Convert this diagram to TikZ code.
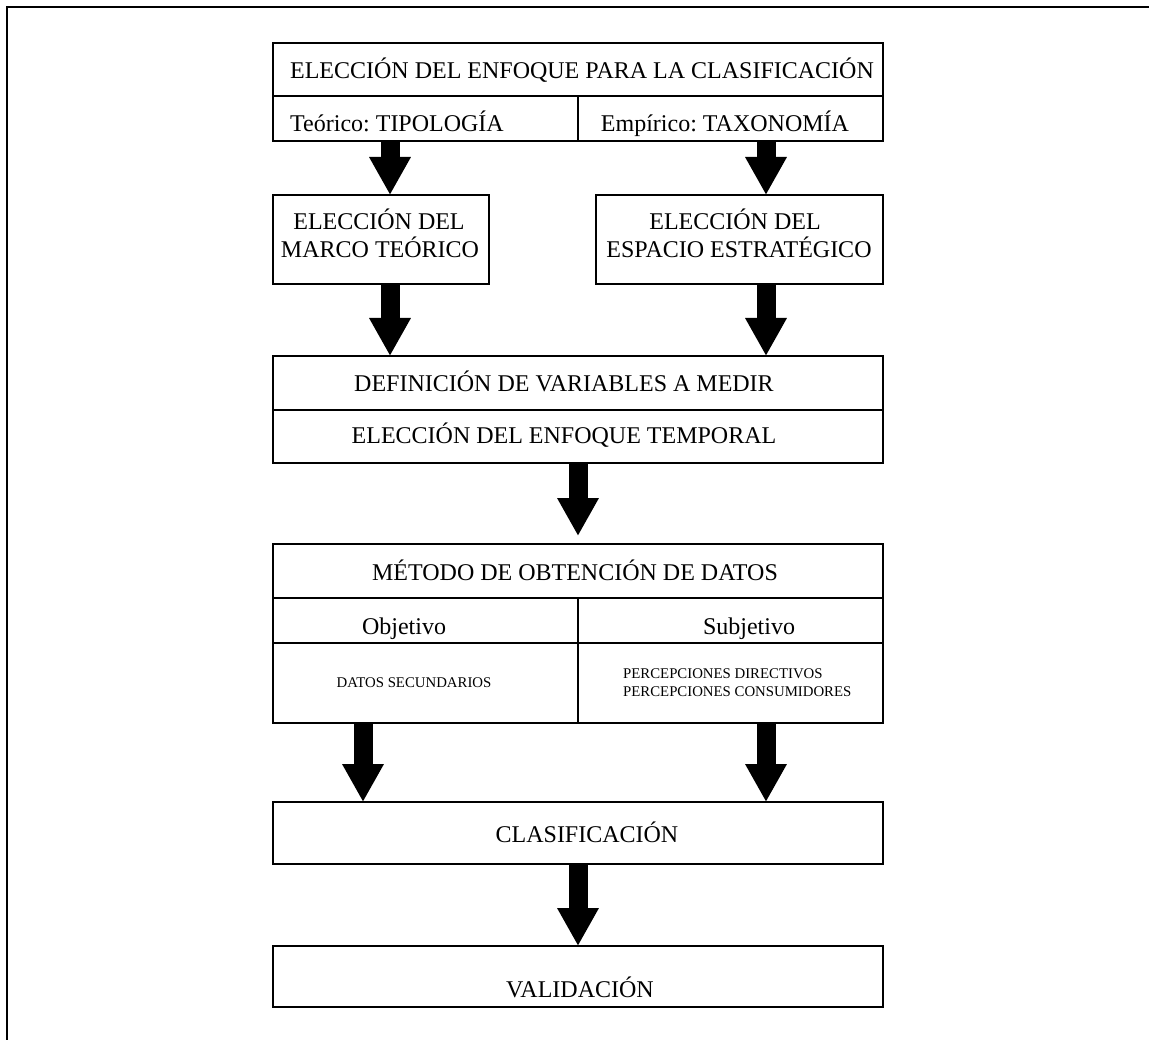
\documentclass[tikz,border=0pt]{standalone}
\usepackage{fontspec}
\setmainfont{Liberation Serif}
\usetikzlibrary{arrows.meta}
\frenchspacing
\begin{document}
\begin{tikzpicture}[x=1pt,y=-1pt,
  box/.style={draw, line width=1.4pt, rectangle, inner sep=0pt, outer sep=0pt, anchor=north west},
  lbl/.style={anchor=base, inner sep=0pt, font=\fontsize{24}{28}\selectfont},
  small/.style={inner sep=0pt, font=\fontsize{14.8}{18}\selectfont},
  blk/.style={line width=19pt, -{Triangle[width=39pt,length=38pt]}}]
\useasboundingbox (0,0) rectangle (1149,1040);
% page frame (top and left sides)
\draw[line width=2.4pt] (7,1040) -- (7,7) -- (1149,7);

% boxes
\node[box, minimum width=610pt, minimum height=53pt] (topA) at (273,43) {};
\node[box, minimum width=305pt, minimum height=45pt] (topL) at (273,96) {};
\node[box, minimum width=305pt, minimum height=45pt] (topR) at (578,96) {};
\node[box, minimum width=216pt, minimum height=89pt] (marco) at (273,195) {};
\node[box, minimum width=287pt, minimum height=89pt] (espacio) at (596,195) {};
\node[box, minimum width=610pt, minimum height=54pt] (defA) at (273,356) {};
\node[box, minimum width=610pt, minimum height=53pt] (defB) at (273,410) {};
\node[box, minimum width=610pt, minimum height=54pt] (metA) at (273,544) {};
\node[box, minimum width=305pt, minimum height=45pt] (metL) at (273,598) {};
\node[box, minimum width=305pt, minimum height=45pt] (metR) at (578,598) {};
\node[box, minimum width=305pt, minimum height=80pt] (metLb) at (273,643) {};
\node[box, minimum width=305pt, minimum height=80pt] (metRb) at (578,643) {};
\node[box, minimum width=610pt, minimum height=62pt] (clas) at (273,802) {};
\node[box, minimum width=610pt, minimum height=61pt] (valid) at (273,946) {};

% texts
\node[lbl] (tTop) at (582,79) {ELECCIÓN DEL ENFOQUE PARA LA CLASIFICACIÓN};
\node[lbl] (tTeo) at (397,132) {Teórico: TIPOLOGÍA};
\node[lbl] (tEmp) at (725,132) {Empírico: TAXONOMÍA};
\node[lbl] (tMar1) at (379,230) {ELECCIÓN DEL};
\node[lbl] (tMar2) at (380,258) {MARCO TEÓRICO};
\node[lbl] (tEsp1) at (735,230) {ELECCIÓN DEL};
\node[lbl] (tEsp2) at (739,258) {ESPACIO ESTRATÉGICO};
\node[lbl] (tDef) at (564,392) {DEFINICIÓN DE VARIABLES A MEDIR};
\node[lbl] (tTemp) at (564,443) {ELECCIÓN DEL ENFOQUE TEMPORAL};
\node[lbl] (tMet) at (575,580) {MÉTODO DE OBTENCIÓN DE DATOS};
\node[lbl] (tObj) at (404,634) {Objetivo};
\node[lbl] (tSub) at (749,634) {Subjetivo};
\node[small, anchor=base] (tDat) at (414,687) {DATOS SECUNDARIOS};
\node[small, anchor=base west] (tPer1) at (623,678) {PERCEPCIONES DIRECTIVOS};
\node[small, anchor=base west] (tPer2) at (623,696) {PERCEPCIONES CONSUMIDORES};
\node[lbl] (tCla) at (587,842) {CLASIFICACIÓN};
\node[lbl] (tVal) at (580,997) {VALIDACIÓN};

% block arrows
\draw[blk] (390,0 |- topL.south) -- (390,0 |- marco.north);
\draw[blk] (766,0 |- topR.south) -- (766,0 |- espacio.north);
\draw[blk] (390,0 |- marco.south) -- (390,0 |- defA.north);
\draw[blk] (766,0 |- espacio.south) -- (766,0 |- defA.north);
\draw[blk, shorten >=8pt] (578,0 |- defB.south) -- (578,0 |- metA.north);
\draw[blk] (363,0 |- metLb.south) -- (363,0 |- clas.north);
\draw[blk] (766,0 |- metRb.south) -- (766,0 |- clas.north);
\draw[blk] (578,0 |- clas.south) -- (578,0 |- valid.north);
\end{tikzpicture}
\end{document}
